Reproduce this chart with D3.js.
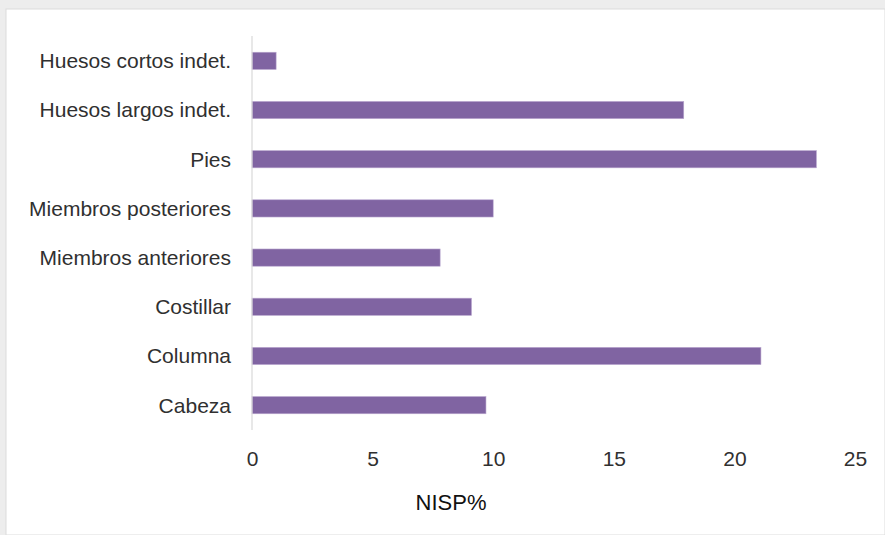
<!DOCTYPE html>
<html>
<head>
<meta charset="utf-8">
<script src="https://cdn.jsdelivr.net/npm/d3@7"></script>
<style>
  body { margin: 0; background: #ececec; }
  svg { display: block; }
  .tick text, .cat { font-family: "Liberation Sans", Arial, sans-serif; fill: #303030; }
</style>
</head>
<body>
<div id="chart"></div>
<script>
// categories, bottom to top as in the original sheet
var categories = ["Cabeza", "Columna", "Costillar", "Miembros anteriores",
                  "Miembros posteriores", "Pies", "Huesos largos indet.", "Huesos cortos indet."];
var nispValues = [9.7, 21.1, 9.1, 7.8, 10.0, 23.4, 17.9, 1.0];
var xTicks = [0, 5, 10, 15, 20, 25];
var axisTitle = "NISP%";

var width = 885, height = 535;

var svg = d3.select("#chart").append("svg")
  .attr("width", width)
  .attr("height", height);

// shadowed frame like the screenshot
svg.append("rect")
  .attr("x", 0).attr("y", 0)
  .attr("width", width).attr("height", height)
  .style("fill", "#ededed");
svg.append("rect")
  .attr("x", 6).attr("y", 9)
  .attr("width", width - 6).attr("height", height - 9)
  .style("fill", "#ffffff")
  .style("stroke", "#dcdcdc")
  .style("stroke-width", 1);

var data = categories.map((c, i) => ({name: c, value: nispValues[i]}));

var x = d3.scaleLinear()
  .domain([0, 25])
  .range([252, 855]);

var y = d3.scaleBand()
  .domain(categories.slice().reverse())
  .range([36, 430])
  .paddingInner(0.65)
  .paddingOuter(0.33);

// bars
svg.selectAll("rect.bar")
  .data(data)
  .enter()
  .append("rect")
  .attr("class", "bar")
  .attr("x", x(0))
  .attr("y", d => y(d.name))
  .attr("width", d => x(d.value) - x(0))
  .attr("height", y.bandwidth())
  .style("fill", "#8064a2")
  .style("stroke", "#b9a7cf")
  .style("stroke-width", 0.6);

// vertical axis line
svg.append("line")
  .attr("x1", x(0)).attr("x2", x(0))
  .attr("y1", 36).attr("y2", 430)
  .style("stroke", "#d9d9d9")
  .style("stroke-width", 1.2);

// category labels
svg.selectAll("text.cat")
  .data(data)
  .enter()
  .append("text")
  .attr("class", "cat")
  .attr("x", 231)
  .attr("y", d => y(d.name) + y.bandwidth() / 2)
  .attr("dy", "0.35em")
  .style("text-anchor", "end")
  .style("font-size", "21px")
  .text(d => d.name);

// x axis (labels only)
var xAxis = d3.axisBottom(x)
  .tickValues(xTicks)
  .tickSize(0)
  .tickPadding(0)
  .tickFormat(d3.format("d"));

var gx = svg.append("g")
  .attr("transform", "translate(0, 451)")
  .call(xAxis);
gx.select(".domain").remove();
gx.selectAll(".tick text")
  .style("font-size", "21px");

svg.append("text")
  .attr("x", 451)
  .attr("y", 510)
  .style("text-anchor", "middle")
  .style("font-family", "Liberation Sans, Arial, sans-serif")
  .style("font-size", "22px")
  .style("fill", "#111")
  .text(axisTitle);
</script>
</body>
</html>
